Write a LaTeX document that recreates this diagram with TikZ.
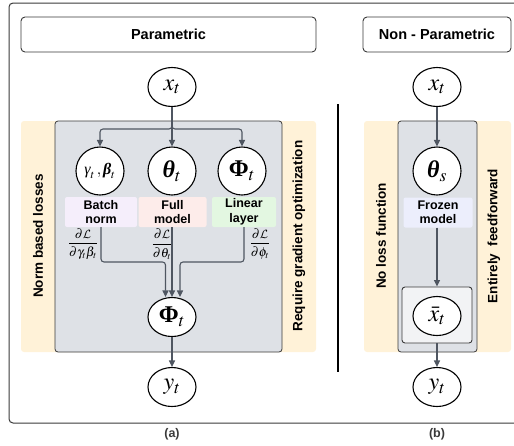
\documentclass[tikz,border=0pt]{standalone}
\usepackage{amsmath}
\usepackage{mathptmx}
\usepackage{fontspec}
\setmainfont{Liberation Sans}
\newfontfamily\mser{Liberation Serif}
\DeclareMathAlphabet{\mathcalcm}{OMS}{cmsy}{m}{n}
\usetikzlibrary{shapes.geometric,arrows.meta,calc}
\definecolor{cream}{HTML}{FFF2D8}
\definecolor{panelgray}{HTML}{DEE1E6}
\definecolor{bnc}{HTML}{F5EEFB}
\definecolor{fmc}{HTML}{FDECEA}
\definecolor{llc}{HTML}{E3F7E1}
\definecolor{frc}{HTML}{ECEEFC}
\definecolor{xbc}{HTML}{F2F3F5}
\definecolor{arrc}{HTML}{4F5661}
\definecolor{edgec}{HTML}{3A3A3A}
\tikzset{
  hdr/.style={draw=edgec, rounded corners=4pt, line width=0.9pt, fill=white, minimum height=35pt, inner sep=0pt, font=\bfseries\fontsize{14.5}{16}\selectfont},
  ell/.style={ellipse, draw=black, line width=1.1pt, fill=white, minimum width=48pt, minimum height=39pt, inner sep=0pt, font=\fontsize{24}{26}\selectfont},
  circ/.style={circle, draw=black, line width=1.1pt, fill=white, minimum size=48pt, inner sep=0pt, font=\fontsize{24}{26}\selectfont},
  lab/.style={rounded corners=2pt, minimum height=30pt, inner sep=0pt, align=center, font=\bfseries\fontsize{12.5}{14.5}\selectfont},
  side/.style={rotate=90, font=\bfseries\fontsize{13.5}{15}\selectfont},
  panelbox/.style={fill=panelgray, draw=edgec, line width=0.8pt, rounded corners=3pt},
  conn/.style={draw=arrc, line width=1.1pt, -{Triangle[length=6.5pt,width=6pt]}},
  frac/.style={font=\fontsize{13}{15}\selectfont, inner sep=0pt},
  capt/.style={text=edgec, font=\bfseries\fontsize{12.5}{14}\selectfont}
}
\newcommand{\bth}{\text{\mser\bfseries\itshape θ}}
\newcommand{\bPh}{\text{\mser\bfseries Φ}}
\newcommand{\bbe}{\text{\mser\bfseries\itshape β}}
\newcommand{\gam}{\text{\mser\itshape γ}}
\newcommand{\gfr}[2]{\genfrac{}{}{1pt}{0}{#1}{#2}}
\begin{document}
\begin{tikzpicture}[x=1pt,y=-1pt]
\useasboundingbox (0,0) rectangle (514,445);
% outer frame
\draw[draw=edgec, line width=1pt, rounded corners=4pt] (9,3) rectangle (545,423);
% headers
\node[hdr, minimum width=295pt] (hp) at (168.5,34.5) {Parametric};
\node[hdr, minimum width=148pt] (hn) at (437,34.5) {Non - Parametric};
% panels
\fill[cream, rounded corners=3pt] (21,121) rectangle (316,352);
\draw[panelbox] (55,121) rectangle (282,352);
\fill[cream, rounded corners=3pt] (364,121) rectangle (511,352);
\draw[panelbox] (398,121) rectangle (477,352);
% divider
\coordinate (d1) at (338,104);
\coordinate (d2) at (338,372);
\draw[line width=1.4pt] (d1) -- (d2);
% side labels
\node[side] (s1) at (38,236) {Norm based losses};
\node[side] (s2) at (299,236) {Require gradient optimization};
\node[side] (s3) at (381,236) {No loss function};
\node[side] (s4) at (494,236) {Entirely\ \ feedforward};
% left nodes
\node[ell] (xa) at (172,87) {$x_t$};
\node[circ, font=\fontsize{16}{18}\selectfont] (g) at (100,171) {$\gam_t\,,\bbe_t$};
\node[circ] (th) at (172,171) {$\bth_t$};
\node[circ] (ph) at (242,171) {$\bPh_t$};
\node[lab, fill=bnc, minimum width=72pt] (bn) at (101,212) {Batch\\norm};
\node[lab, fill=fmc, minimum width=68pt] (fm) at (172.5,212) {Full\\model};
\node[lab, fill=llc, minimum width=64pt] (ll) at (244,212) {Linear\\layer};
\node[frac] (f1) at (83,244) {$\gfr{\partial\mathcalcm{L}}{\partial\gamma_t\beta_t}$};
\node[frac] (f2) at (162,244) {$\gfr{\partial\mathcalcm{L}}{\partial\theta_t}$};
\node[frac] (f3) at (260,244) {$\gfr{\partial\mathcalcm{L}}{\partial\phi_t}$};
\node[ell] (Pb) at (172,317) {$\bPh_t$};
\node[ell] (ya) at (172,387) {$y_t$};
\node[capt] (la) at (172,434) {(a)};
% left connectors
\coordinate (br) at (172,129);
\coordinate (gm) at (172,262);
\draw[conn, rounded corners=3pt] (xa.south) -- (br) -| (g.north);
\draw[conn, rounded corners=3pt] (xa.south) -- (br) -| (ph.north);
\draw[conn] (xa.south) -- (th.north);
\draw[conn, rounded corners=3pt] (bn.south) |- ([xshift=-6.5pt]Pb.north |- gm) -- ([xshift=-6.5pt]Pb.north);
\draw[conn] (fm.south -| Pb.north) -- (Pb.north);
\draw[conn, rounded corners=3pt] (ll.south) |- ([xshift=8pt]Pb.north |- gm) -- ([xshift=8pt]Pb.north);
\draw[conn] (Pb.south) -- (ya.north);
% right nodes
\node[ell] (xb) at (437,87) {$x_t$};
\node[circ] (ts) at (437,171) {$\bth_s$};
\node[lab, fill=frc, minimum width=69pt] (fz) at (438,212.5) {Frozen\\model};
\node[draw=edgec, fill=xbc, line width=0.9pt, rounded corners=3pt, minimum width=70pt, minimum height=56pt] (xbx) at (437,315) {};
\node[ell] (xbar) at (437,316) {$\bar{x}_t$};
\node[ell] (yb) at (437,387) {$y_t$};
\node[capt] (lb) at (437,434) {(b)};
% right connectors
\draw[conn] (xb.south) -- (ts.north);
\draw[conn] (fz.south -| xbx.north) -- (xbx.north);
\draw[conn] (xbx.south) -- (yb.north);
\end{tikzpicture}
\end{document}
